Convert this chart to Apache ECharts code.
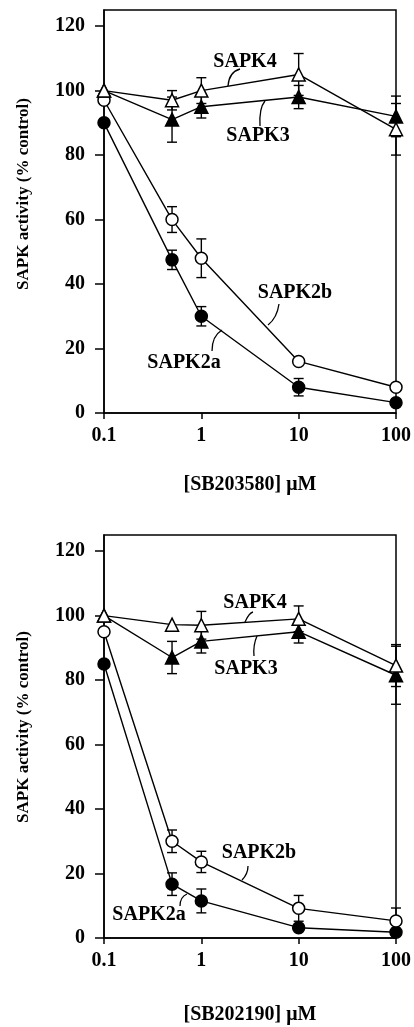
<!DOCTYPE html>
<html lang="en">
<head>
    <meta charset="UTF-8">
    <title>SAPK inhibition</title>
    <script src="https://cdn.jsdelivr.net/npm/echarts@6/dist/echarts.min.js"></script>
    <style>
        html, body { margin: 0; padding: 0; background: #fff; }
    </style>
</head>
<body>
    <div id="echarts" style="width: 414px; height: 1027px;"></div>
    <script>
        const myChart = echarts.init(document.querySelector('#echarts'));

        // concentrations (uM), shared by both panels
        const xDose = [0.1, 0.5, 1, 10, 100];

        // top panel: SB203580
        const sapk4_a = [100, 97, 100, 105, 88];
        const sapk4_a_err = [0, 3, 4, 6.5, 8];
        const sapk3_a = [100, 91, 95, 98, 92];
        const sapk3_a_err = [0, 7, 3.5, 3.6, 6.3];
        const sapk2b_a = [97, 60, 48, 16, 8];
        const sapk2b_a_err = [0, 4, 6, 0, 0];
        const sapk2a_a = [90, 47.5, 30, 8, 3.2];
        const sapk2a_a_err = [0, 3, 3, 2.7, 0];

        // bottom panel: SB202190
        const sapk4_b = [100, 97.2, 97, 99, 84.5];
        const sapk4_b_err = [0, 0, 4.3, 4, 6.5];
        const sapk3_b = [100, 87, 92, 95, 81.5];
        const sapk3_b_err = [0, 5, 3.6, 3.5, 9];
        const sapk2b_b = [95, 30, 23.6, 9.2, 5.3];
        const sapk2b_b_err = [0, 3.5, 3.3, 4, 4];
        const sapk2a_b = [85, 16.7, 11.5, 3.2, 1.8];
        const sapk2a_b_err = [0, 3.5, 3.7, 0, 0];

        const font = 'Liberation Serif';

        const pairs = ys => xDose.map((x, i) => [x, ys[i]]);
        const errData = (ys, es) => {
            const out = [];
            xDose.forEach((x, i) => {
                if (es[i] > 0) out.push([x, ys[i] - es[i], ys[i] + es[i]]);
            });
            return out;
        };

        function renderErr(params, api) {
            const lo = api.coord([api.value(0), api.value(1)]);
            const hi = api.coord([api.value(0), api.value(2)]);
            const w = 5;
            const st = { stroke: '#000', lineWidth: 1.4 };
            return {
                type: 'group',
                children: [
                    { type: 'line', shape: { x1: lo[0], y1: lo[1], x2: hi[0], y2: hi[1] }, style: st },
                    { type: 'line', shape: { x1: lo[0] - w, y1: lo[1], x2: lo[0] + w, y2: lo[1] }, style: st },
                    { type: 'line', shape: { x1: hi[0] - w, y1: hi[1], x2: hi[0] + w, y2: hi[1] }, style: st }
                ]
            };
        }

        function lineSeries(name, ys, idx, symbol, filled) {
            return {
                name: name,
                type: 'line',
                xAxisIndex: idx,
                yAxisIndex: idx,
                data: pairs(ys),
                symbol: symbol,
                symbolSize: symbol === 'triangle' ? 13 : 12,
                z: 3,
                lineStyle: { color: '#000', width: 1.4 },
                itemStyle: { color: filled ? '#000' : '#fff', borderColor: '#000', borderWidth: 1.5 },
                emphasis: { disabled: true },
                animation: false
            };
        }

        function errSeries(ys, es, idx) {
            return {
                type: 'custom',
                xAxisIndex: idx,
                yAxisIndex: idx,
                data: errData(ys, es),
                encode: { x: 0, y: [1, 2] },
                renderItem: renderErr,
                z: 1,
                silent: true,
                animation: false
            };
        }

        const xAxisBase = (idx, title, gap) => ({
            type: 'log',
            logBase: 10,
            gridIndex: idx,
            min: 0.1,
            max: 100,
            name: title,
            nameLocation: 'middle',
            nameGap: gap,
            nameTextStyle: { color: '#000', fontFamily: font, fontWeight: 'bold', fontSize: 20 },
            axisLine: { lineStyle: { color: '#000', width: 1.5 } },
            axisTick: { length: 6, lineStyle: { color: '#000', width: 1.5 } },
            minorTick: { show: false },
            splitLine: { show: false },
            axisLabel: { color: '#000', fontFamily: font, fontWeight: 'bold', fontSize: 20, margin: 13,
                formatter: v => String(+Number(v).toPrecision(3)) }
        });

        const yAxisBase = idx => ({
            type: 'value',
            gridIndex: idx,
            min: 0,
            max: 125,
            interval: 20,
            axisLine: { show: true, lineStyle: { color: '#000', width: 1.5 } },
            axisTick: { show: true, length: 9, lineStyle: { color: '#000', width: 1.5 } },
            splitLine: { show: false },
            axisLabel: { color: '#000', fontFamily: font, fontWeight: 'bold', fontSize: 20, margin: 19, showMaxLabel: false }
        });

        const lblStyle = { fill: '#000', font: 'bold 20px "Liberation Serif"', textAlign: 'center', textVerticalAlign: 'middle' };
        const txt = (t, x, y) => ({ type: 'text', x: x, y: y, style: Object.assign({ text: t }, lblStyle), silent: true });
        const lead = (x1, y1, cx, cy, x2, y2) => ({
            type: 'bezierCurve',
            shape: { x1: x1, y1: y1, cpx1: cx, cpy1: cy, x2: x2, y2: y2 },
            style: { stroke: '#000', lineWidth: 1.3, fill: null },
            silent: true
        });

        const option = {
            backgroundColor: '#fff',
            animation: false,
            grid: [
                { left: 104, right: 12, top: 10, height: 403, show: true, borderColor: '#000', borderWidth: 1.5, backgroundColor: 'transparent' },
                { left: 104, right: 13, top: 535, height: 403, show: true, borderColor: '#000', borderWidth: 1.5, backgroundColor: 'transparent' }
            ],
            xAxis: [
                xAxisBase(0, '[SB203580] \u03bcM', 62),
                xAxisBase(1, '[SB202190] \u03bcM', 67)
            ],
            yAxis: [yAxisBase(0), yAxisBase(1)],
            series: [
                errSeries(sapk2a_a, sapk2a_a_err, 0),
                errSeries(sapk2b_a, sapk2b_a_err, 0),
                errSeries(sapk3_a, sapk3_a_err, 0),
                errSeries(sapk4_a, sapk4_a_err, 0),
                lineSeries('SAPK2a', sapk2a_a, 0, 'circle', true),
                lineSeries('SAPK2b', sapk2b_a, 0, 'circle', false),
                lineSeries('SAPK3', sapk3_a, 0, 'triangle', true),
                lineSeries('SAPK4', sapk4_a, 0, 'triangle', false),

                errSeries(sapk2a_b, sapk2a_b_err, 1),
                errSeries(sapk2b_b, sapk2b_b_err, 1),
                errSeries(sapk3_b, sapk3_b_err, 1),
                errSeries(sapk4_b, sapk4_b_err, 1),
                lineSeries('SAPK2a', sapk2a_b, 1, 'circle', true),
                lineSeries('SAPK2b', sapk2b_b, 1, 'circle', false),
                lineSeries('SAPK3', sapk3_b, 1, 'triangle', true),
                lineSeries('SAPK4', sapk4_b, 1, 'triangle', false)
            ],
            graphic: [
                // y axis titles
                { type: 'text', x: 24, y: 194, rotation: Math.PI / 2, silent: true,
                  style: { text: 'SAPK activity (% control)', fill: '#000', font: 'bold 17px "Liberation Serif"', textAlign: 'center', textVerticalAlign: 'middle' } },
                { type: 'text', x: 24, y: 727, rotation: Math.PI / 2, silent: true,
                  style: { text: 'SAPK activity (% control)', fill: '#000', font: 'bold 17px "Liberation Serif"', textAlign: 'center', textVerticalAlign: 'middle' } },

                // top panel labels
                txt('SAPK4', 245, 62),
                lead(228, 86, 229, 72, 240, 69),
                txt('SAPK3', 258, 136),
                lead(265, 101, 259, 108, 260, 126),
                txt('SAPK2b', 295, 293),
                lead(268, 325, 277, 318, 279, 304),
                txt('SAPK2a', 184, 363),
                lead(222, 330, 212, 336, 212, 351),

                // bottom panel labels
                txt('SAPK4', 255, 603),
                lead(245, 622, 249, 613, 253, 612),
                txt('SAPK3', 246, 669),
                lead(257, 636, 253, 645, 254, 656),
                txt('SAPK2b', 259, 853),
                lead(242, 880, 248, 874, 248, 866),
                txt('SAPK2a', 149, 915),
                lead(187, 894, 180, 897, 180, 906)
            ]
        };
        myChart.setOption(option);
    </script>
</body>
</html>
